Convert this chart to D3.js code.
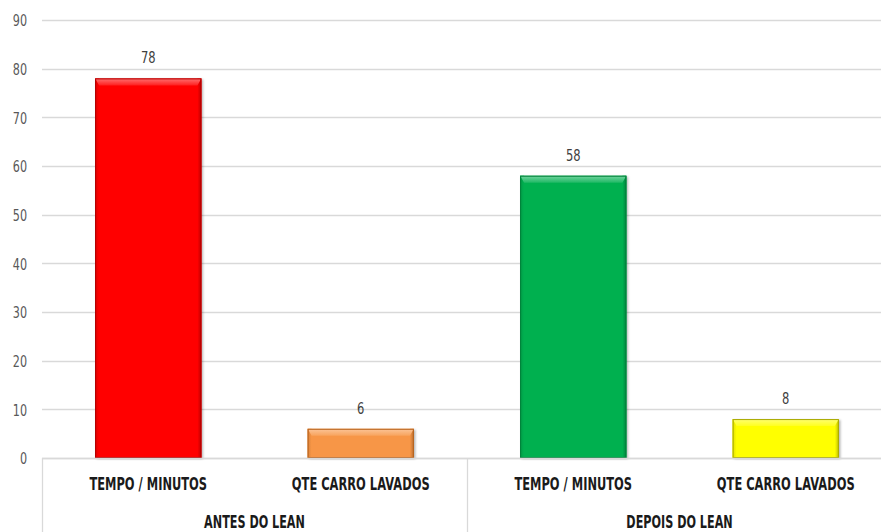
<!DOCTYPE html>
<html>
<head>
<meta charset="utf-8">
<script src="https://cdn.jsdelivr.net/npm/d3@7/dist/d3.min.js"></script>
<style>
  html, body { margin: 0; padding: 0; background: #fff; }
  svg { display: block; font-family: "DejaVu Sans", "Liberation Sans", sans-serif; }
</style>
</head>
<body>
<svg id="chart" width="881" height="532"></svg>
<script>
// Lean car-wash indicators, before and after
const groups = ["ANTES DO LEAN", "DEPOIS DO LEAN"];
const categories = ["TEMPO / MINUTOS", "QTE CARRO LAVADOS", "TEMPO / MINUTOS", "QTE CARRO LAVADOS"];
const categoryGroup = [0, 0, 1, 1];
const values = [78, 6, 58, 8];
const barColors = ["#ff0000", "#f79646", "#00b050", "#ffff00"];
const barEdges = ["#b00000", "#b8621c", "#00803a", "#a8a800"];
const yTicks = [0, 10, 20, 30, 40, 50, 60, 70, 80, 90];

const svg = d3.select("#chart");
const W = 881, H = 532;
const margin = { left: 42, right: -11, top: 20, bottom: 74 };
const x0 = margin.left, x1 = W - margin.right;
const yTop = margin.top, yBottom = H - margin.bottom;

const keys = d3.range(values.length);
const x = d3.scaleBand().domain(keys).range([x0, x1]).paddingInner(0.5).paddingOuter(0.25);
const xOuter = d3.scaleBand().domain(keys).range([x0, x1]).padding(0);
const y = d3.scaleLinear().domain([0, 90]).range([yBottom, yTop]);

// narrow text: draw at a tall size, squeeze horizontally
function narrowText(sel, sx) {
  sel.each(function () {
    const t = d3.select(this);
    const px = +t.attr("x"), py = +t.attr("y");
    t.attr("x", 0).attr("y", 0)
     .attr("transform", `translate(${px},${py}) scale(${sx},1)`);
  });
}

const defs = svg.append("defs");
keys.forEach(i => {
  const c = barColors[i];
  const top = defs.append("linearGradient").attr("id", "top" + i)
    .attr("x1", 0).attr("y1", 0).attr("x2", 0).attr("y2", 1);
  top.append("stop").attr("offset", "0%").attr("stop-color", d3.interpolateRgb(c, "#fff")(0.45));
  top.append("stop").attr("offset", "100%").attr("stop-color", d3.interpolateRgb(c, "#fff")(0.12));
  const lft = defs.append("linearGradient").attr("id", "lft" + i)
    .attr("x1", 0).attr("y1", 0).attr("x2", 1).attr("y2", 0);
  lft.append("stop").attr("offset", "0%").attr("stop-color", d3.interpolateRgb(c, "#000")(0.12));
  lft.append("stop").attr("offset", "100%").attr("stop-color", c);
  const rgt = defs.append("linearGradient").attr("id", "rgt" + i)
    .attr("x1", 0).attr("y1", 0).attr("x2", 1).attr("y2", 0);
  rgt.append("stop").attr("offset", "0%").attr("stop-color", c);
  rgt.append("stop").attr("offset", "100%").attr("stop-color", d3.interpolateRgb(c, "#000")(0.25));
});
const shadow = defs.append("filter").attr("id", "shadow")
  .attr("x", "-10%").attr("y", "-10%").attr("width", "130%").attr("height", "130%");
shadow.append("feDropShadow").attr("dx", 1.5).attr("dy", 1).attr("stdDeviation", 1.2)
  .attr("flood-color", "#000").attr("flood-opacity", 0.3);

// horizontal gridlines
svg.append("g").selectAll("line").data(yTicks).join("line")
  .attr("x1", x0).attr("x2", W)
  .attr("y1", d => Math.round(y(d)) + 0.5).attr("y2", d => Math.round(y(d)) + 0.5)
  .attr("stroke", "#d9d9d9").attr("stroke-width", 1.3);

// y axis labels
const yAxis = d3.axisLeft(y).tickValues(yTicks).tickSize(0).tickPadding(0);
const ya = svg.append("g").attr("transform", `translate(${x0 - 15},0)`).call(yAxis);
ya.select(".domain").remove();
ya.selectAll(".tick text")
  .attr("fill", "#595959").attr("font-size", 16).attr("font-family", "DejaVu Sans, sans-serif")
  .attr("dy", "0.36em")
  .attr("transform", "scale(0.7,1)");

// bars
const bars = svg.append("g");
keys.forEach(i => {
  const bx = x(i), bw = x.bandwidth();
  const by = y(values[i]), bh = y(0) - y(values[i]);
  const g = bars.append("g");
  g.append("rect").attr("x", bx).attr("y", by).attr("width", bw).attr("height", bh)
    .attr("fill", barColors[i]).attr("filter", "url(#shadow)");
  const bev = Math.min(7, bh / 3), side = 4;
  // side shading
  g.append("rect").attr("x", bx).attr("y", by).attr("width", side).attr("height", bh).attr("fill", `url(#lft${i})`);
  g.append("rect").attr("x", bx + bw - side).attr("y", by).attr("width", side).attr("height", bh).attr("fill", `url(#rgt${i})`);
  // top bevel (trapezoid)
  g.append("path")
    .attr("d", `M${bx},${by} L${bx + bw},${by} L${bx + bw - side},${by + bev} L${bx + side},${by + bev} Z`)
    .attr("fill", `url(#top${i})`);
  g.append("rect").attr("x", bx + 0.5).attr("y", by + 0.5).attr("width", bw - 1).attr("height", bh - 1)
    .attr("fill", "none").attr("stroke", barEdges[i]).attr("stroke-width", 1);
});

// value labels
const vl = svg.append("g").selectAll("text").data(keys).join("text")
  .attr("x", i => x(i) + x.bandwidth() / 2).attr("y", i => y(values[i]) - 15)
  .attr("text-anchor", "middle").attr("fill", "#404040").attr("font-size", 16)
  .text(i => values[i]);
narrowText(vl, 0.72);

// baseline
svg.append("line").attr("x1", x0).attr("x2", W)
  .attr("y1", Math.round(y(0)) + 0.5).attr("y2", Math.round(y(0)) + 0.5)
  .attr("stroke", "#d9d9d9").attr("stroke-width", 1.3);

// category separators below the axis
const sepX = [x0, xOuter(2), x1];
svg.append("g").selectAll("line").data(sepX).join("line")
  .attr("x1", d => d + 0.5).attr("x2", d => d + 0.5)
  .attr("y1", y(0)).attr("y2", H)
  .attr("stroke", "#d9d9d9").attr("stroke-width", 1.3);

// category labels
const cl = svg.append("g").selectAll("text").data(keys).join("text")
  .attr("x", i => x(i) + x.bandwidth() / 2).attr("y", y(0) + 32)
  .attr("text-anchor", "middle").attr("font-weight", "bold").attr("font-size", 17.5)
  .attr("fill", "#1a1a1a").text(i => categories[i]);
narrowText(cl, 0.655);

// group labels
const gl = svg.append("g").selectAll("text").data(groups).join("text")
  .attr("x", (d, gi) => {
    const idx = keys.filter(k => categoryGroup[k] === gi);
    return (xOuter(idx[0]) + xOuter(idx[idx.length - 1]) + xOuter.bandwidth()) / 2;
  })
  .attr("y", y(0) + 70)
  .attr("text-anchor", "middle").attr("font-weight", "bold").attr("font-size", 17.5)
  .attr("fill", "#1a1a1a").text(d => d);
narrowText(gl, 0.64);
</script>
</body>
</html>
